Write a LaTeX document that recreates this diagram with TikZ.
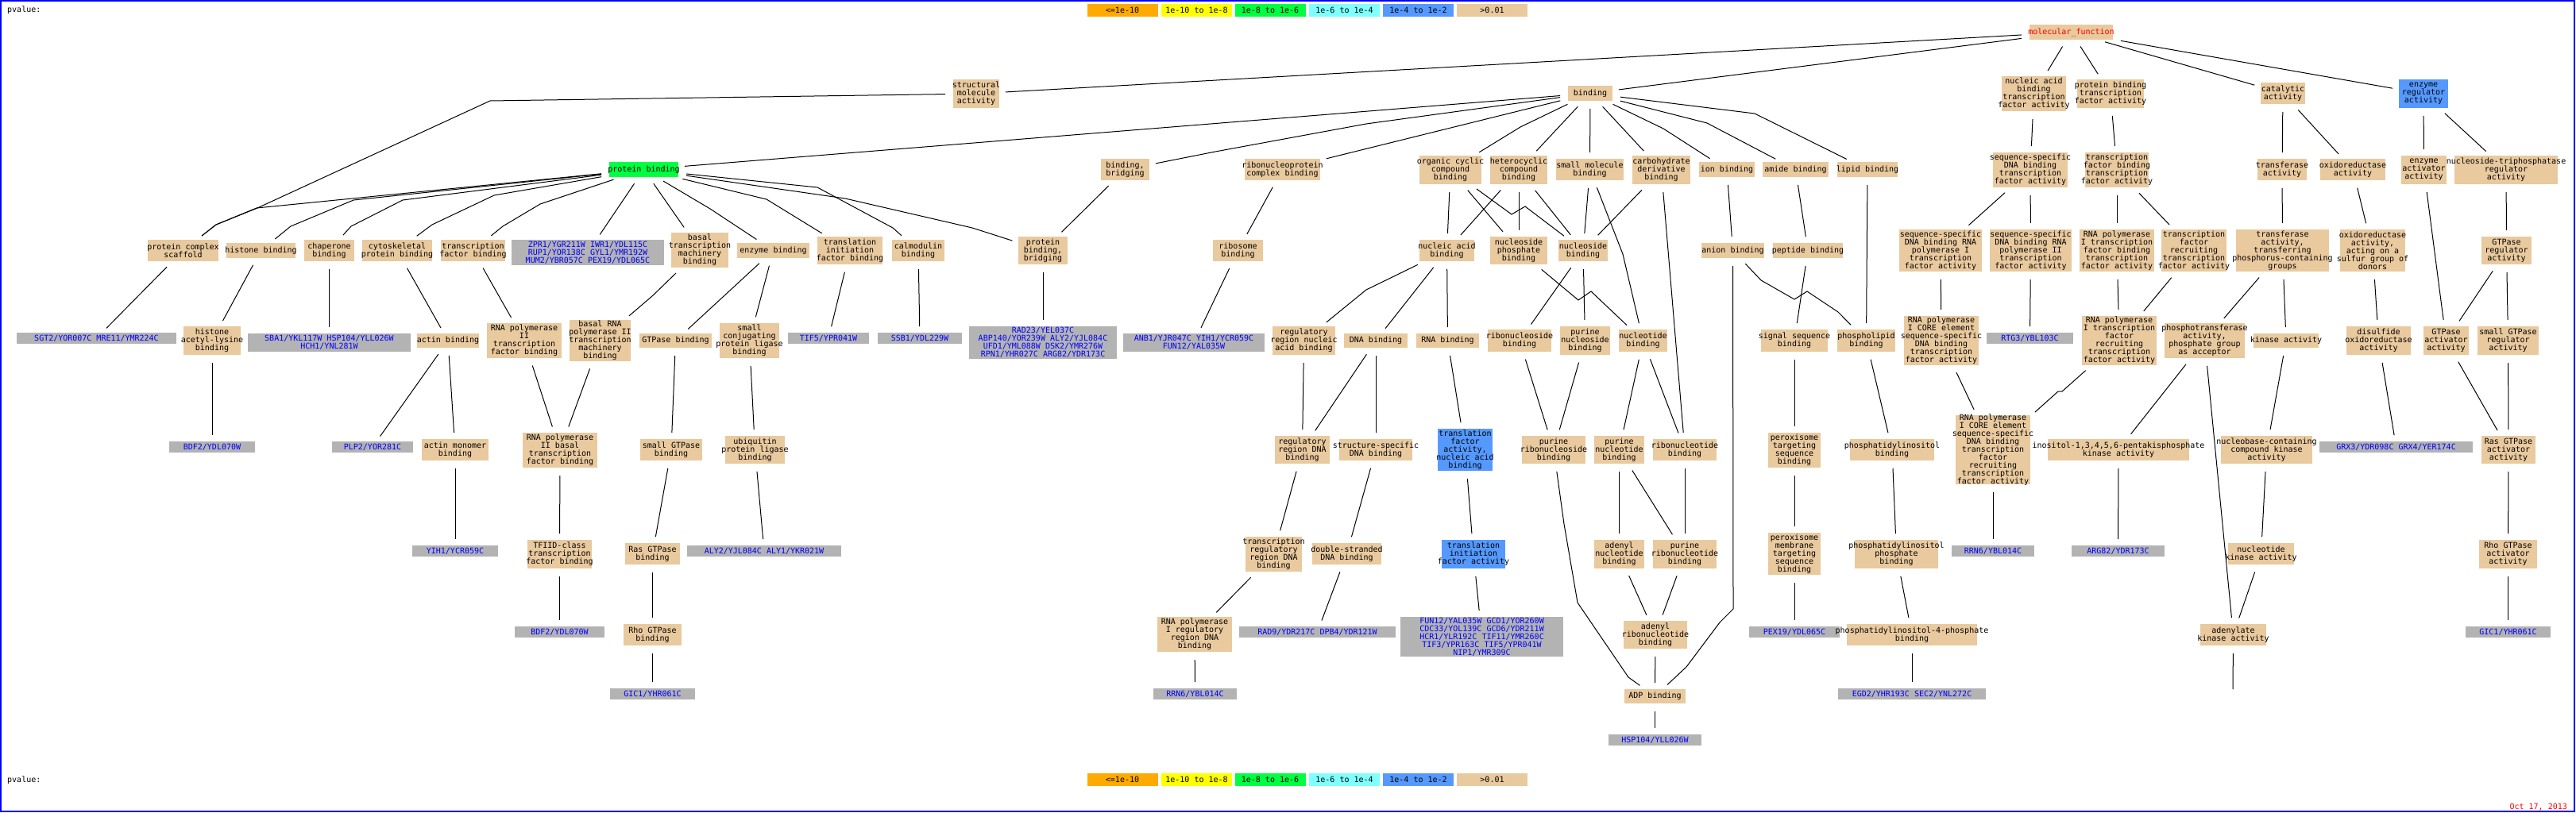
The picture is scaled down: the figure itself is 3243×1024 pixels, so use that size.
\documentclass[tikz,border=0pt]{standalone}
\usepackage{fontspec}
\newfontfamily\gofont{DejaVu Sans Mono}
\definecolor{termc}{RGB}{233,201,158}
\definecolor{gry}{RGB}{179,179,179}
\definecolor{pgreen}{RGB}{0,255,64}
\definecolor{pblue}{RGB}{85,153,255}
\definecolor{pcyan}{RGB}{128,255,255}
\definecolor{porange}{RGB}{255,170,0}
\definecolor{pyellow}{RGB}{255,255,0}
\definecolor{gblue}{RGB}{0,0,255}
\tikzset{
  box/.style={rectangle, inner sep=0pt, outer sep=0pt, draw=none},
  lbl/.style={inner sep=0pt, align=center, font=\gofont\fontsize{10}{10}\selectfont},
  edge/.style={draw=black, line width=1pt, shorten <=10pt, shorten >=8pt},
}
\newcommand\tn[7][termc]{\node[box, fill=#1, minimum width=#5pt, minimum height=#6pt, label={[lbl]center:{#7}}] (#2) at (#3,#4) {};}
\newcommand\gnn[6]{\node[box, fill=gry, minimum width=#4pt, minimum height=#5pt, label={[lbl,text=gblue]center:{#6}}] (#1) at (#2,#3) {};}
\begin{document}
\begin{tikzpicture}[x=1pt,y=-1pt]
\useasboundingbox (0,0) rectangle (3243,1024);
\fill[white] (0,0) rectangle (3243,1024);
\draw[gblue, line width=2pt] (1,1) rectangle (3241,1022);

% legend
\node[lbl, anchor=west] (pv1) at (9,13) {pvalue:};
\node[lbl, anchor=west] (pv2) at (9,983) {pvalue:};
\tn[porange]{la1}{1413}{13}{89}{16}{<=1e-10}
\tn[pyellow]{la2}{1506.5}{13}{89}{16}{1e-10 to 1e-8}
\tn[pgreen]{la3}{1599}{13}{89}{16}{1e-8 to 1e-6}
\tn[pcyan]{la4}{1692.5}{13}{89}{16}{1e-6 to 1e-4}
\tn[pblue]{la5}{1785.5}{13}{89}{16}{1e-4 to 1e-2}
\tn{la6}{1878.5}{13}{89}{16}{>0.01}
\tn[porange]{lb1}{1413}{982}{89}{16}{<=1e-10}
\tn[pyellow]{lb2}{1506.5}{982}{89}{16}{1e-10 to 1e-8}
\tn[pgreen]{lb3}{1599}{982}{89}{16}{1e-8 to 1e-6}
\tn[pcyan]{lb4}{1692.5}{982}{89}{16}{1e-6 to 1e-4}
\tn[pblue]{lb5}{1785.5}{982}{89}{16}{1e-4 to 1e-2}
\tn{lb6}{1878.5}{982}{89}{16}{>0.01}
\node[lbl, anchor=east, text=red] (date) at (3232,1016) {Oct 17, 2013};

% level 0-1
\node[box, fill=termc, minimum width=105pt, minimum height=19pt, label={[lbl,text=red]center:{molecular\_function}}] (mf) at (2607.5,40.5) {};
\tn{sma}{1229}{118}{58}{36}{structural\\molecule\\activity}
\tn{bind}{2002}{117.5}{56}{19}{binding}
\tn{nabtf}{2560.5}{118}{81}{44}{nucleic acid\\binding\\transcription\\factor activity}
\tn{pbtf}{2657}{118}{84}{36}{protein binding\\transcription\\factor activity}
\tn{cat}{2874}{117.5}{56}{27}{catalytic\\activity}
\tn[pblue]{enr}{3051}{118}{62}{36}{enzyme\\regulator\\activity}

% level 2
\tn[pgreen]{pb}{810.5}{213.5}{87}{19}{protein binding}
\tn{bb}{1416.5}{213.5}{61}{27}{binding,\\bridging}
\tn{rnpc}{1614.5}{213.5}{95}{27}{ribonucleoprotein\\complex binding}
\tn{occ}{1826}{214}{78}{36}{organic cyclic\\compound\\binding}
\tn{het}{1912}{214}{72}{36}{heterocyclic\\compound\\binding}
\tn{smb}{2001.5}{213.5}{85}{27}{small molecule\\binding}
\tn{carb}{2091.5}{214}{73}{36}{carbohydrate\\derivative\\binding}
\tn{ion}{2174}{213.5}{70}{19}{ion binding}
\tn{amide}{2260.5}{213.5}{83}{19}{amide binding}
\tn{lipid}{2351}{213.5}{76}{19}{lipid binding}
\tn{ssdtf}{2556}{214}{94}{44}{sequence-specific\\DNA binding\\transcription\\factor activity}
\tn{tfbtf}{2665}{214}{80}{44}{transcription\\factor binding\\transcription\\factor activity}
\tn{trans}{2873}{213.5}{62}{27}{transferase\\activity}
\tn{oxi}{2962}{213.5}{82}{27}{oxidoreductase\\activity}
\tn{ena}{3051.5}{214}{57}{36}{enzyme\\activator\\activity}
\tn{ntpr}{3155}{214}{130}{36}{nucleoside-triphosphatase\\regulator\\activity}

% level 3
\tn{pcs}{230.5}{315.5}{89}{27}{protein complex\\scaffold}
\tn{hist}{328.5}{315.5}{87}{19}{histone binding}
\tn{chap}{414.5}{315.5}{63}{27}{chaperone\\binding}
\tn{cyto}{500}{315.5}{88}{27}{cytoskeletal\\protein binding}
\tn{tfb}{595.5}{315.5}{81}{27}{transcription\\factor binding}
\gnn{g1}{740}{318}{192}{32}{ZPR1/YGR211W IWR1/YDL115C\\RUP1/YOR138C GYL1/YMR192W\\MUM2/YBR057C PEX19/YDL065C}
\tn{btmb}{881}{315}{72}{44}{basal\\transcription\\machinery\\binding}
\tn{enzb}{973.5}{315.5}{91}{19}{enzyme binding}
\tn{tifb}{1070}{315.5}{82}{35}{translation\\initiation\\factor binding}
\tn{calm}{1156}{315.5}{66}{27}{calmodulin\\binding}
\tn{pbb}{1313}{315.5}{62}{35}{protein\\binding,\\bridging}
\tn{ribo}{1558.5}{315.5}{63}{27}{ribosome\\binding}
\tn{nab}{1821.5}{315.5}{69}{27}{nucleic acid\\binding}
\tn{nspb}{1912}{315.5}{72}{35}{nucleoside\\phosphate\\binding}
\tn{nsb}{1993}{315.5}{62}{27}{nucleoside\\binding}
\tn{anion}{2181.5}{315.5}{79}{19}{anion binding}
\tn{pept}{2276}{315.5}{88}{19}{peptide binding}
\tn{ssp1}{2443}{315.5}{104}{53}{sequence-specific\\DNA binding RNA\\polymerase I\\transcription\\factor activity}
\tn{ssp2}{2556.5}{315.5}{103}{53}{sequence-specific\\DNA binding RNA\\polymerase II\\transcription\\factor activity}
\tn{p1tfb}{2665}{315.5}{94}{53}{RNA polymerase\\I transcription\\factor binding\\transcription\\factor activity}
\tn{tfr}{2762}{315.5}{82}{53}{transcription\\factor\\recruiting\\transcription\\factor activity}
\tn{ttp}{2873.5}{315.5}{117}{53}{transferase\\activity,\\transferring\\phosphorus-containing\\groups}
\tn{oxs}{2987}{315.5}{82}{53}{oxidoreductase\\activity,\\acting on a\\sulfur group of\\donors}
\tn{gtpr}{3155.5}{315.5}{63}{35}{GTPase\\regulator\\activity}

% level 4
\gnn{g2}{121.5}{426}{201}{14}{SGT2/YOR007C MRE11/YMR224C}
\tn{hal}{267}{429}{72}{36}{histone\\acetyl-lysine\\binding}
\gnn{g3}{414.5}{431.5}{205}{23}{SBA1/YKL117W HSP104/YLL026W\\HCH1/YNL281W}
\tn{actin}{564}{429}{78}{18}{actin binding}
\tn{p2tfb}{660}{429}{94}{44}{RNA polymerase\\II\\transcription\\factor binding}
\tn{brp2}{755.5}{429}{77}{52}{basal RNA\\polymerase II\\transcription\\machinery\\binding}
\tn{gtpb}{850.5}{429}{91}{18}{GTPase binding}
\tn{sclb}{943.5}{429}{75}{44}{small\\conjugating\\protein ligase\\binding}
\gnn{g4}{1043}{426}{102}{14}{TIF5/YPR041W}
\gnn{g5}{1158}{426}{106}{14}{SSB1/YDL229W}
\gnn{g6}{1313}{431.5}{186}{41}{RAD23/YEL037C\\ABP140/YOR239W ALY2/YJL084C\\UFD1/YML088W DSK2/YMR276W\\RPN1/YHR027C ARG82/YDR173C}
\gnn{g7}{1503}{431.5}{178}{23}{ANB1/YJR047C YIH1/YCR059C\\FUN12/YAL035W}
\tn{rrna}{1641.5}{429}{79}{36}{regulatory\\region nucleic\\acid binding}
\tn{dnab}{1732}{429}{80}{18}{DNA binding}
\tn{rnab}{1822.5}{429}{79}{18}{RNA binding}
\tn{rnsb}{1913}{429}{80}{28}{ribonucleoside\\binding}
\tn{pnsb}{1995.5}{429}{63}{36}{purine\\nucleoside\\binding}
\tn{ntb}{2068.5}{429}{61}{28}{nucleotide\\binding}
\tn{ssb}{2259}{429}{84}{28}{signal sequence\\binding}
\tn{plb}{2349.5}{429}{73}{28}{phospholipid\\binding}
\tn{core}{2444}{429}{94}{62}{RNA polymerase\\I CORE element\\sequence-specific\\DNA binding\\transcription\\factor activity}
\gnn{g8}{2555.5}{426}{109}{14}{RTG3/YBL103C}
\tn{p1tfr}{2668}{429}{94}{62}{RNA polymerase\\I transcription\\factor\\recruiting\\transcription\\factor activity}
\tn{ptpa}{2775.5}{429}{101}{44}{phosphotransferase\\activity,\\phosphate group\\as acceptor}
\tn{kin}{2878}{429}{82}{18}{kinase activity}
\tn{dsox}{2994.5}{429}{81}{36}{disulfide\\oxidoreductase\\activity}
\tn{gtpa}{3079.5}{429}{57}{36}{GTPase\\activator\\activity}
\tn{sgtpr}{3157.5}{429}{77}{36}{small GTPase\\regulator\\activity}

% level 5
\gnn{g9}{267}{563}{108}{14}{BDF2/YDL070W}
\gnn{g10}{469}{563}{102}{14}{PLP2/YOR281C}
\tn{amb}{573}{566.5}{84}{27}{actin monomer\\binding}
\tn{p2btf}{705}{567}{94}{44}{RNA polymerase\\II basal\\transcription\\factor binding}
\tn{sgtpb}{845}{566.5}{78}{27}{small GTPase\\binding}
\tn{uplb}{950.5}{566.5}{75}{35}{ubiquitin\\protein ligase\\binding}
\tn{rrdna}{1639.5}{566.5}{69}{35}{regulatory\\region DNA\\binding}
\tn{ssdna}{1732}{566.5}{92}{27}{structure-specific\\DNA binding}
\tn[pblue]{tfa}{1844.5}{566.5}{69}{53}{translation\\factor\\activity,\\nucleic acid\\binding}
\tn{prnsb}{1956}{566.5}{80}{35}{purine\\ribonucleoside\\binding}
\tn{pntb}{2038.5}{566.5}{63}{35}{purine\\nucleotide\\binding}
\tn{rntb}{2121}{566.5}{80}{27}{ribonucleotide\\binding}
\tn{ptsb}{2259}{567}{66}{44}{peroxisome\\targeting\\sequence\\binding}
\tn{pib}{2382}{566.5}{106}{27}{phosphatidylinositol\\binding}
\tn{corer}{2509}{566.5}{94}{87}{RNA polymerase\\I CORE element\\sequence-specific\\DNA binding\\transcription\\factor\\recruiting\\transcription\\factor activity}
\tn{ipk}{2667}{566.5}{178}{27}{inositol-1,3,4,5,6-pentakisphosphate\\kinase activity}
\tn{nckin}{2853.5}{566.5}{115}{35}{nucleobase-containing\\compound kinase\\activity}
\gnn{g11}{3016.5}{563}{193}{14}{GRX3/YDR098C GRX4/YER174C}
\tn{rasga}{3158}{566.5}{68}{35}{Ras GTPase\\activator\\activity}

% level 6
\gnn{g12}{573}{694}{108}{14}{YIH1/YCR059C}
\tn{tfiid}{704.5}{698}{81}{36}{TFIID-class\\transcription\\factor binding}
\tn{rasb}{821.5}{697.5}{69}{27}{Ras GTPase\\binding}
\gnn{g13}{962}{694}{194}{14}{ALY2/YJL084C ALY1/YKR021W}
\tn{trrdna}{1603.5}{698}{71}{44}{transcription\\regulatory\\region DNA\\binding}
\tn{dsdna}{1695.5}{697.5}{87}{27}{double-stranded\\DNA binding}
\tn[pblue]{tifa}{1855}{698}{80}{36}{translation\\initiation\\factor activity}
\tn{anb}{2038.5}{698}{63}{36}{adenyl\\nucleotide\\binding}
\tn{prntb}{2121}{698}{80}{36}{purine\\ribonucleotide\\binding}
\tn{pmtsb}{2259}{697.5}{66}{53}{peroxisome\\membrane\\targeting\\sequence\\binding}
\tn{pipb}{2387.5}{698}{105}{36}{phosphatidylinositol\\phosphate\\binding}
\gnn{g14}{2509}{694}{104}{14}{RRN6/YBL014C}
\gnn{g15}{2666.5}{694}{117}{14}{ARG82/YDR173C}
\tn{ntkin}{2846.5}{697.5}{83}{27}{nucleotide\\kinase activity}
\tn{rhoga}{3157.5}{698}{73}{36}{Rho GTPase\\activator\\activity}

% level 7
\gnn{g16}{704.5}{796}{113}{14}{BDF2/YDL070W}
\tn{rhob}{821.5}{799.5}{73}{27}{Rho GTPase\\binding}
\tn{p1rr}{1504}{799}{94}{44}{RNA polymerase\\I regulatory\\region DNA\\binding}
\gnn{g17}{1658.5}{796}{197}{14}{RAD9/YDR217C DPB4/YDR121W}
\gnn{g18}{1865.5}{802}{205}{50}{FUN12/YAL035W GCD1/YOR260W\\CDC33/YOL139C GCD6/YDR211W\\HCR1/YLR192C TIF11/YMR260C\\TIF3/YPR163C TIF5/YPR041W\\NIP1/YMR309C}
\tn{arnb}{2084}{799.5}{80}{35}{adenyl\\ribonucleotide\\binding}
\gnn{g19}{2259}{796}{114}{14}{PEX19/YDL065C}
\tn{pi4p}{2407}{799.5}{164}{27}{phosphatidylinositol-4-phosphate\\binding}
\tn{adk}{2811.5}{799.5}{83}{27}{adenylate\\kinase activity}
\gnn{g20}{3157.5}{796}{107}{14}{GIC1/YHR061C}

% level 8-9
\gnn{g21}{821.5}{874}{107}{14}{GIC1/YHR061C}
\gnn{g22}{1504.5}{874}{105}{14}{RRN6/YBL014C}
\tn{adp}{2083.5}{877}{77}{18}{ADP binding}
\gnn{g23}{2407}{874}{186}{14}{EGD2/YHR193C SEC2/YNL272C}
\gnn{g24}{2083.5}{932}{117}{14}{HSP104/YLL026W}
\coordinate (adkend) at (2811,868);

% edges level 0-1
\draw[edge] (mf) -- (sma);
\draw[edge] (mf) -- (bind);
\draw[edge] (mf) -- (nabtf);
\draw[edge] (mf) -- (pbtf);
\draw[edge] (mf) -- (cat);
\draw[edge] (mf) -- (enr);
\draw[edge] (sma) -- (617,127) -- (324,262) -- (272,283) -- (pcs);
% binding children
\draw[edge] (bind) -- (pb);
\draw[edge] (bind) -- (1720,156) -- (1530,191) -- (bb);
\draw[edge] (bind) -- (rnpc);
\draw[edge] (bind) -- (1914,160) -- (occ);
\draw[edge] (bind) -- (het);
\draw[edge] (bind) -- (smb);
\draw[edge] (bind) -- (carb);
\draw[edge] (bind) -- (2094,162) -- (ion);
\draw[edge] (bind) -- (2149,155) -- (amide);
\draw[edge] (bind) -- (2209,143) -- (lipid);
\draw[edge] (nabtf) -- (ssdtf);
\draw[edge] (pbtf) -- (tfbtf);
\draw[edge] (cat) -- (trans);
\draw[edge] (cat) -- (oxi);
\draw[edge] (enr) -- (ena);
\draw[edge] (enr) -- (ntpr);
% protein binding children
\draw[edge] (pb) -- (323,262) -- (272,283) -- (pcs);
\draw[edge] (pb) -- (445,252) -- (366,285) -- (hist);
\draw[edge] (pb) -- (507,252) -- (442,285) -- (chap);
\draw[edge] (pb) -- (622,246) -- (544,283) -- (cyto);
\draw[edge] (pb) -- (680,257) -- (633,285) -- (tfb);
\draw[edge] (pb) -- (g1);
\draw[edge] (pb) -- (btmb);
\draw[edge] (pb) -- (894,263) -- (enzb);
\draw[edge] (pb) -- (965,251) -- (tifb);
\draw[edge] (pb) -- (1029,236) -- (1124,287) -- (calm);
\draw[edge] (pb) -- (1064,250) -- (1224,287) -- (pbb);
\draw[edge] (bb) -- (pbb);
\draw[edge] (rnpc) -- (ribo);
% level 2 -> 3
\draw[edge] (occ) -- (nab);
\draw[edge] (occ) -- (nspb);
\draw[edge] (occ) -- (1903,270) -- (1920,260) -- (nsb);
\draw[edge] (het) -- (nab);
\draw[edge] (het) -- (nspb);
\draw[edge] (het) -- (nsb);
\draw[edge] (smb) -- (nsb);
\draw[edge] (smb) -- (2043,320) -- (ntb);
\draw[edge] (carb) -- (nsb);
\draw[edge] (carb) -- (rntb);
\draw[edge] (ion) -- (anion);
\draw[edge] (amide) -- (pept);
\draw[edge] (lipid) -- (plb);
\draw[edge] (ssdtf) -- (ssp1);
\draw[edge] (ssdtf) -- (ssp2);
\draw[edge] (tfbtf) -- (p1tfb);
\draw[edge] (tfbtf) -- (tfr);
\draw[edge] (trans) -- (ttp);
\draw[edge] (oxi) -- (oxs);
\draw[edge] (ena) -- (gtpa);
\draw[edge] (ntpr) -- (gtpr);
% level 3 -> 4
\draw[edge] (pcs) -- (g2);
\draw[edge] (hist) -- (hal);
\draw[edge] (chap) -- (g3);
\draw[edge] (cyto) -- (actin);
\draw[edge] (tfb) -- (p2tfb);
\draw[edge] (btmb) -- (821,373) -- (brp2);
\draw[edge] (enzb) -- (gtpb);
\draw[edge] (enzb) -- (sclb);
\draw[edge] (tifb) -- (g4);
\draw[edge] (calm) -- (g5);
\draw[edge] (pbb) -- (g6);
\draw[edge] (ribo) -- (g7);
\draw[edge] (nab) -- (1720,365) -- (rrna);
\draw[edge] (nab) -- (dnab);
\draw[edge] (nab) -- (rnab);
\draw[edge] (nspb) -- (1987,378) -- (2003,367) -- (ntb);
\draw[edge] (nsb) -- (rnsb);
\draw[edge] (nsb) -- (pnsb);
\draw[edge] (anion) -- (2182,767) -- (2165,784) -- (2123,840) -- (adp);
\draw[edge] (anion) -- (2217,353) -- (2259,377) -- (2275,367) -- (2314,393) -- (plb);
\draw[edge] (pept) -- (ssb);
\draw[edge] (ssp1) -- (core);
\draw[edge] (ssp2) -- (g8);
\draw[edge] (p1tfb) -- (p1tfr);
\draw[edge] (tfr) -- (p1tfr);
\draw[edge] (ttp) -- (ptpa);
\draw[edge] (ttp) -- (kin);
\draw[edge] (oxs) -- (dsox);
\draw[edge] (gtpr) -- (gtpa);
\draw[edge] (gtpr) -- (sgtpr);
% level 4 -> 5
\draw[edge] (hal) -- (g9);
\draw[edge] (actin) -- (g10);
\draw[edge] (actin) -- (amb);
\draw[edge] (p2tfb) -- (p2btf);
\draw[edge] (brp2) -- (p2btf);
\draw[edge] (gtpb) -- (sgtpb);
\draw[edge] (sclb) -- (uplb);
\draw[edge] (rrna) -- (rrdna);
\draw[edge] (dnab) -- (rrdna);
\draw[edge] (dnab) -- (ssdna);
\draw[edge] (rnab) -- (tfa);
\draw[edge] (rnsb) -- (prnsb);
\draw[edge] (pnsb) -- (prnsb);
\draw[edge] (ntb) -- (pntb);
\draw[edge] (ntb) -- (rntb);
\draw[edge] (ssb) -- (ptsb);
\draw[edge] (plb) -- (pib);
\draw[edge] (core) -- (corer);
\draw[edge] (p1tfr) -- (2596,493) -- (2591,493) -- (corer);
\draw[edge] (ptpa) -- (ipk);
\draw[edge] (ptpa) -- (adk);
\draw[edge] (kin) -- (nckin);
\draw[edge] (dsox) -- (g11);
\draw[edge] (gtpa) -- (rasga);
\draw[edge] (sgtpr) -- (rasga);
% level 5 -> 6
\draw[edge] (amb) -- (g12);
\draw[edge] (p2btf) -- (tfiid);
\draw[edge] (sgtpb) -- (rasb);
\draw[edge] (uplb) -- (g13);
\draw[edge] (rrdna) -- (trrdna);
\draw[edge] (ssdna) -- (dsdna);
\draw[edge] (tfa) -- (tifa);
\draw[edge] (prnsb) -- (1969,660) -- (1986,759) -- (2050,853) -- (adp);
\draw[edge] (pntb) -- (anb);
\draw[edge] (pntb) -- (prntb);
\draw[edge] (rntb) -- (prntb);
\draw[edge] (ptsb) -- (pmtsb);
\draw[edge] (pib) -- (pipb);
\draw[edge] (corer) -- (g14);
\draw[edge] (ipk) -- (g15);
\draw[edge] (nckin) -- (ntkin);
\draw[edge] (rasga) -- (rhoga);
% level 6 -> 7
\draw[edge] (tfiid) -- (g16);
\draw[edge] (rasb) -- (rhob);
\draw[edge] (trrdna) -- (p1rr);
\draw[edge] (dsdna) -- (g17);
\draw[edge] (tifa) -- (g18);
\draw[edge] (anb) -- (arnb);
\draw[edge] (prntb) -- (arnb);
\draw[edge] (pmtsb) -- (g19);
\draw[edge] (pipb) -- (pi4p);
\draw[edge] (ntkin) -- (adk);
\draw[edge] (rhoga) -- (g20);
% level 7 -> 8
\draw[edge] (rhob) -- (g21);
\draw[edge] (p1rr) -- (g22);
\draw[edge] (arnb) -- (adp);
\draw[edge] (pi4p) -- (g23);
\draw[edge, shorten >=0pt] (adk) -- (adkend);
\draw[edge] (adp) -- (g24);
\end{tikzpicture}
\end{document}
